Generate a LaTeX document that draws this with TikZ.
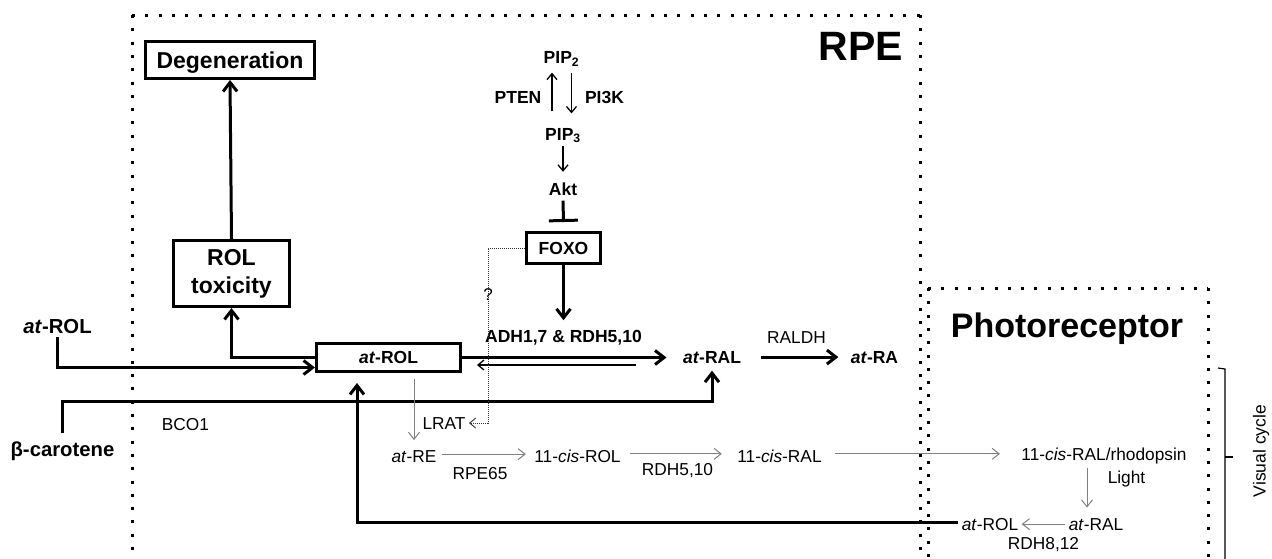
\documentclass[tikz,border=0pt]{standalone}
\usepackage{fontspec}
\setmainfont{Liberation Sans}
\usetikzlibrary{arrows.meta}
\newcommand\fsreg{\fontsize{17.3}{20}\selectfont}
\newcommand\fsbold{\fontsize{17.5}{20}\selectfont\bfseries}
\newcommand\fsside{\fontsize{20.3}{24}\selectfont\bfseries}
\newcommand\fsbox{\fontsize{23}{28}\selectfont\bfseries}
\definecolor{arrgray}{gray}{0.5}
\begin{document}
\begin{tikzpicture}[x=1pt,y=-1pt,
  tharr/.style={line width=3pt,-{Straight Barb[length=9pt,width=14pt,line width=3pt]}},
  thinarr/.style={line width=1.3pt,-{Straight Barb[length=6pt,width=10pt,line width=1.3pt]}},
  grayarr/.style={draw=arrgray,line width=1pt,-{Straight Barb[length=7pt,width=11pt,line width=1pt]}},
  dotarr/.style={draw=black!80,line width=0.9pt,dash pattern=on 1pt off 1pt,-{Straight Barb[length=6pt,width=10pt,line width=0.9pt]}},
  dotbox/.style={line width=3pt,dash pattern=on 3pt off 10.3pt},
  box/.style={draw,line width=3pt,fill=white,inner sep=0pt},
  txt/.style={anchor=base}
]
\clip (0,0) rectangle (1272,558);
% compartments
\draw[dotbox] (132,15) -- (920,15);
\draw[dotbox] (132,15) -- (132,570);
\draw[dotbox] (920,15) -- (920,570);
\draw[dotbox] (928,288) -- (1208,288);
\draw[dotbox] (928,288) -- (928,570);
\draw[dotbox] (1208,288) -- (1208,570);
\node[txt] (rpe) at (861,60) {\fontsize{41}{45}\selectfont\bfseries RPE};
\node[txt] (photo) at (1067,337) {\fontsize{34}{40}\selectfont\bfseries Photoreceptor};

% boxes
\node[box,minimum width=169,minimum height=37,text depth=0pt] (deg) at (230,60) {\fsbox Degeneration};
\node[box,minimum width=116,minimum height=66,align=center,font=\fsbox] (tox) at (231.5,273.5) {ROL\\toxicity};
\node[box,minimum width=144,minimum height=28] (rol) at (388.5,357.5) {\fsbold\textit{at}-ROL};
\node[box,minimum width=74,minimum height=31,text depth=0pt] (foxo) at (563.5,248) {\fsbold FOXO};

% labels
\node[txt] (atrolL) at (57.5,333.5) {\fsside\textit{at}-ROL};
\node[txt] (beta) at (62.5,456) {\fsside β-carotene};
\node[txt] (bco) at (185.5,430) {\fsreg BCO1};
\node[txt] (lrat) at (444,429) {\fsreg LRAT};
\node[txt] (adh) at (563.5,342) {\fsbold ADH1,7 \& RDH5,10};
\node[txt] (ral) at (712,363) {\fsbold\textit{at}-RAL};
\node[txt] (raldh) at (796.5,343) {\fsreg RALDH};
\node[txt] (ra) at (874.5,363) {\fsbold\textit{at}-RA};
\node[txt] (are) at (414,462.5) {\fsreg\textit{at}-RE};
\node[txt] (rpe65) at (480,479) {\fsreg RPE65};
\node[txt] (cisrol) at (577.5,462.5) {\fsreg 11-\textit{cis}-ROL};
\node[txt] (rdh510) at (677.5,475) {\fsreg RDH5,10};
\node[txt] (cisral) at (779.5,462.5) {\fsreg 11-\textit{cis}-RAL};
\node[txt] (rhod) at (1104,460.5) {\fsreg 11-\textit{cis}-RAL/rhodopsin};
\node[txt] (light) at (1126.5,483) {\fsreg Light};
\node[txt] (ralp) at (1096,530) {\fsreg\textit{at}-RAL};
\node[txt] (rolp) at (990,530) {\fsreg\textit{at}-ROL};
\node[txt] (rdh812) at (1043.5,549) {\fsreg RDH8,12};
\node[txt] (pip2) at (561.5,63.5) {\fsbold PIP\textsubscript{2}};
\node[txt] (pten) at (518,103) {\fsbold PTEN};
\node[txt] (pi3k) at (604.5,103) {\fsbold PI3K};
\node[txt] (pip3) at (563,140) {\fsbold PIP\textsubscript{3}};
\node[txt] (akt) at (563,195) {\fsbold Akt};
\node[rotate=90] (vc) at (1261,451) {\fontsize{17.5}{20}\selectfont Visual cycle};

% coordinates
\coordinate (bcorner) at (62.5,401);
\coordinate (rtip) at (357,383);
\coordinate (back1) at (636,365);
\coordinate (qc) at (488,295);

% thick connectors
\draw[tharr] (tox.north) -- (deg.south);
\draw[tharr] (atrolL.south) |- ([yshift=-10pt]rol.west);
\draw[tharr] (rol.west) -| (tox.south);
\draw[tharr] ([yshift=5pt]beta.north) -- (bcorner) -| ([yshift=-4pt]ral.south);
\draw[tharr] ([yshift=2pt]rolp.west) -| (rtip);
\draw[tharr] (rol.east) -- ([xshift=-13pt]ral.west |- rol.east);
\draw[thinarr,shorten >=15pt] (back1) -- (back1 -| rol.east);
\draw[tharr] ([xshift=16pt]ral.east) -- ([xshift=-9pt]ra.west);
\draw[tharr] (foxo.south) -- ([yshift=6pt]adh.north);
\draw[line width=3pt,-{Bar[width=29pt,line width=3pt]}] ([yshift=-2pt]akt.south) -- ([yshift=9pt]foxo.north);

% PI3K pathway
\draw[thinarr,shorten <=13pt,shorten >=3pt] ([xshift=-11pt]pip3.north) -- ([xshift=-11pt]pip3.north |- pip2.south);
\draw[thinarr,shorten <=3pt,shorten >=11pt] ([xshift=8.5pt]pip3.north |- pip2.south) -- ([xshift=8.5pt]pip3.north);
\draw[thinarr,shorten >=7pt] (pip3.south) -- (akt.north);

% visual cycle
\draw[grayarr,shorten <=6pt,shorten >=7pt] (are.north |- rol.south) -- (are.north);
\draw[dotarr] (foxo.west) -| (qc) |- (lrat.east);
\node (q) at (qc) {\fontsize{17}{19}\selectfont ?};
\draw[grayarr,shorten <=2pt,shorten >=5pt] ([yshift=2.5pt]are.east) -- ([yshift=2.5pt]are.east -| cisrol.west);
\draw[grayarr,shorten <=6pt,shorten >=12pt] ([yshift=2.5pt]cisrol.east) -- ([yshift=2.5pt]cisrol.east -| cisral.west);
\draw[grayarr,shorten <=10pt,shorten >=18pt] ([yshift=2.5pt]cisral.east) -- ([yshift=2.5pt]cisral.east -| rhod.west);
\draw[grayarr,shorten >=7pt] ([xshift=-17pt]rhod.south) -- ([xshift=-17pt]rhod.south |- ralp.north);
\draw[grayarr] (ralp.west) -- (ralp.west -| rolp.east);

% brace
\draw[line width=1.2pt] (1218,368) -- (1225,369) -- (1225,570);
\draw[line width=1.2pt] (1225,457) -- (1233,457);
\end{tikzpicture}
\end{document}
